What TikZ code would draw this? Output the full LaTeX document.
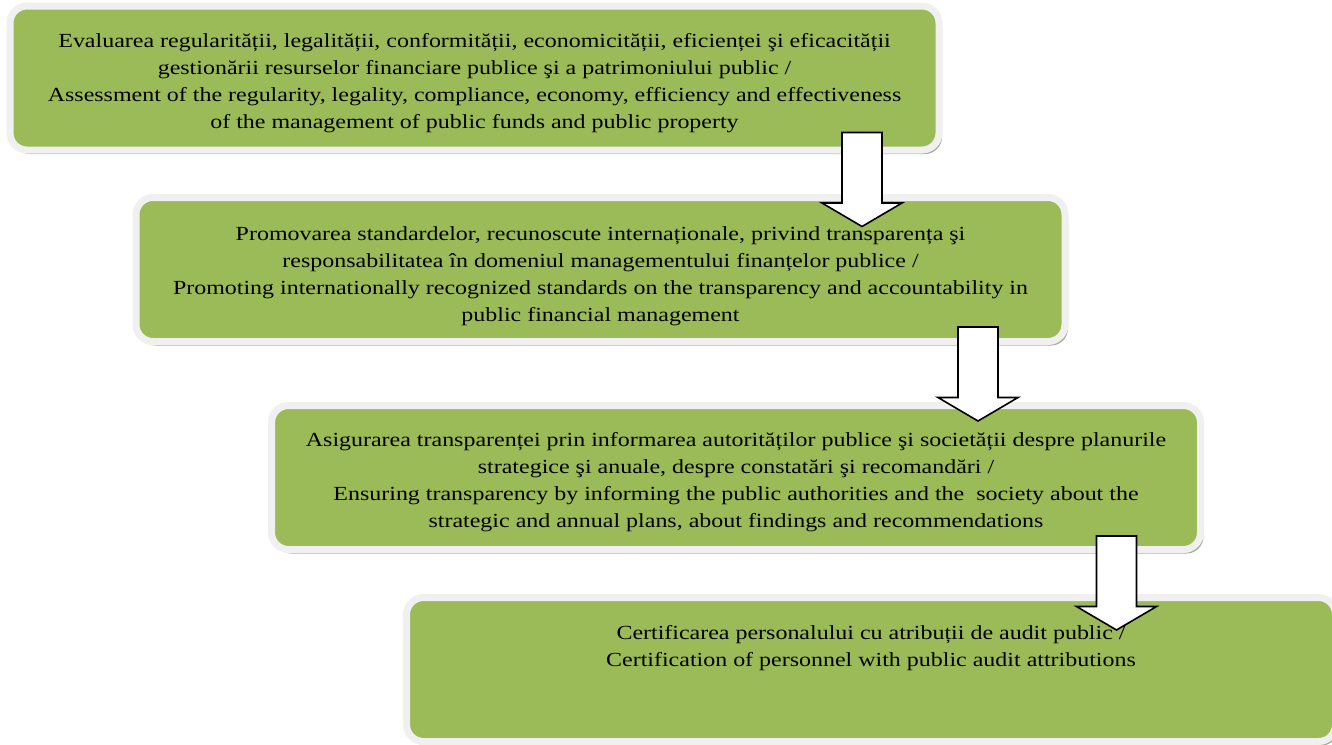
\documentclass[tikz,border=0pt]{standalone}
\usepackage{fontspec}
\setmainfont{Liberation Serif}[FakeStretch=1.198]
\usetikzlibrary{shadows,calc}
\definecolor{boxgreen}{HTML}{9BBB59}
\definecolor{boxrim}{HTML}{F0F0F0}
\definecolor{boxshade}{HTML}{A6AF98}
\begin{document}
\begin{tikzpicture}[x=1pt,y=-1pt,
  stagebox/.style={rectangle, rounded corners=17pt, fill=boxgreen, draw=boxrim,
    line width=7pt, inner sep=0pt, outer sep=0pt,
    minimum width=929pt, minimum height=144pt,
    drop shadow={shadow xshift=3pt, shadow yshift=-4pt, fill=boxshade, opacity=1}},
  stagetext/.style={anchor=north, align=center, inner sep=0pt,
    font=\fontsize{20}{27}\selectfont, text=black},
  blockarrow/.style={draw=black, fill=white, line width=1.6pt, line join=miter}]
\useasboundingbox (0,0) rectangle (1332,744);
\node[stagebox] (b1) at (474.5,78) {};
\node[stagebox] (b2) at (600.5,269.5) {};
\node[stagebox] (b3) at (736,477.5) {};
\node[stagebox] (b4) at (871,669.5) {};
\node[stagetext] (t1) at ($(b1.north)+(0,25)$) {\rule{0pt}{16pt}Evaluarea regularității, legalității, conformității, economicității, eficienței şi eficacității\\gestionării resurselor financiare publice şi a patrimoniului public /\\Assessment of the regularity, legality, compliance, economy, efficiency and effectiveness\\of the management of public funds and public property};
\node[stagetext] (t2) at ($(b2.north)+(0,26.5)$) {\rule{0pt}{16pt}Promovarea standardelor, recunoscute internaționale, privind transparența şi\\responsabilitatea în domeniul managementului finanțelor publice /\\Promoting internationally recognized standards on the transparency and accountability in\\public financial management};
\node[stagetext] (t3) at ($(b3.north)+(0,24.5)$) {\rule{0pt}{16pt}Asigurarea transparenței prin informarea autorităților publice şi societății despre planurile\\strategice şi anuale, despre constatări şi recomandări /\\Ensuring transparency by informing the public authorities and the \ society about the\\strategic and annual plans, about findings and recommendations};
\node[stagetext] (t4) at ($(b4.north)+(0,25.5)$) {\rule{0pt}{16pt}Certificarea personalului cu atribuții de audit public /\\Certification of personnel with public audit attributions};
\coordinate (a1) at ($(b1.south)+(387.5,-17.5)$);
\coordinate (a2) at ($(b2.south)+(377.5,-14.5)$);
\coordinate (a3) at ($(b3.south)+(380.5,-13.5)$);
\foreach \a in {a1,a2,a3}{
  \draw[blockarrow] ($(\a)+(-20,0)$) -- ($(\a)+(20,0)$) -- ($(\a)+(20,70.5)$) -- ($(\a)+(40,70.5)$)
    -- ($(\a)+(0,94)$) -- ($(\a)+(-40,70.5)$) -- ($(\a)+(-20,70.5)$) -- cycle;
}
\end{tikzpicture}
\end{document}
